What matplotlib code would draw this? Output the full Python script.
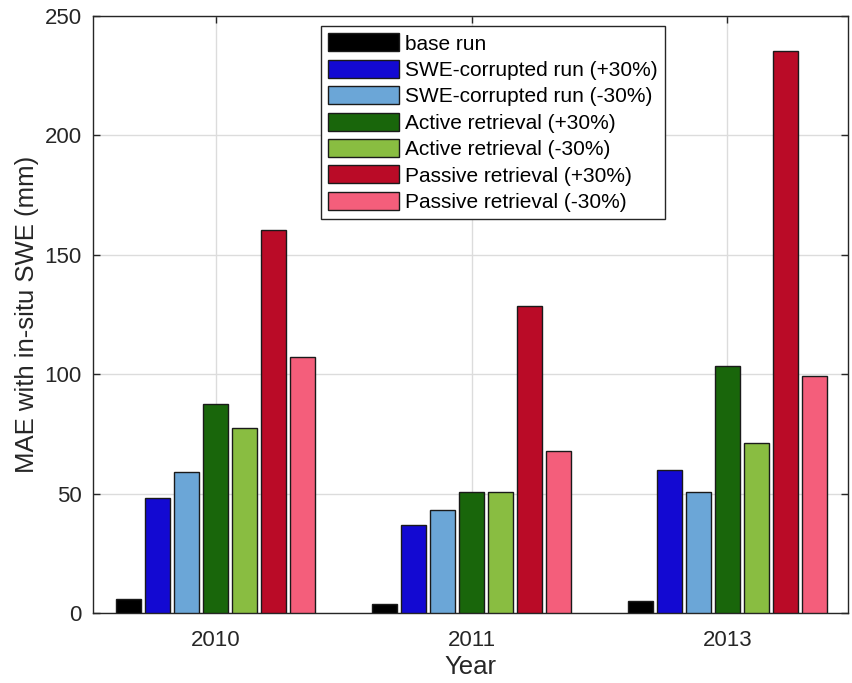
import numpy as np
import matplotlib
matplotlib.use('Agg')
import matplotlib.pyplot as plt

plt.rcParams['font.family'] = ['Liberation Sans', 'DejaVu Sans']

years = ['2010', '2011', '2013']
series_names = ['base run',
                'SWE-corrupted run (+30%)',
                'SWE-corrupted run (-30%)',
                'Active retrieval (+30%)',
                'Active retrieval (-30%)',
                'Passive retrieval (+30%)',
                'Passive retrieval (-30%)']
base_run = [5.9, 3.7, 4.9]
swe_plus = [48.1, 36.9, 59.9]
swe_minus = [59.0, 43.2, 50.7]
active_plus = [87.5, 50.7, 103.5]
active_minus = [77.5, 50.5, 71.2]
passive_plus = [160.3, 128.6, 235.5]
passive_minus = [107.2, 68.0, 99.4]
colors = ['#000000', '#1309D2', '#6BA6D7', '#19660B', '#89BD41', '#BA0B27', '#F45E7B']

values = [base_run, swe_plus, swe_minus, active_plus, active_minus,
          passive_plus, passive_minus]

fig = plt.figure(figsize=(8.52, 6.83), dpi=100)
ax = fig.add_axes([0.109, 0.1025, 0.886, 0.874])

x = np.arange(1, len(years) + 1)
step = 0.1133
width = 0.098
for i, (vals, name, col) in enumerate(zip(values, series_names, colors)):
    ax.bar(x + (i - 3) * step, vals, width, color=col, edgecolor='#1a1a1a',
           linewidth=1.0, label=name, zorder=3)

ax.set_xlim(0.52, 3.47)
ax.set_ylim(0, 250)
ax.set_xticks(x)
ax.set_xticklabels(years)
ax.set_yticks(np.arange(0, 251, 50))
ax.grid(True, color='#dcdcdc', linewidth=1.0, zorder=0)
ax.set_axisbelow(True)
ax.tick_params(direction='in', length=5, width=1, labelsize=16, colors='#262626',
               top=True, right=True, pad=8)
ax.tick_params(axis='x', pad=12)
for sp in ax.spines.values():
    sp.set_color('#262626')
    sp.set_linewidth(1.0)
ax.set_xlabel('Year', fontsize=18.5, color='#262626', labelpad=3)
ax.set_ylabel('MAE with in-situ SWE (mm)', fontsize=18.5, color='#262626', labelpad=4)

leg = ax.legend(loc='upper left', bbox_to_anchor=(0.302, 0.983), borderaxespad=0,
                fontsize=15, handlelength=3.4, handleheight=0.95, labelspacing=0.3,
                handletextpad=0.3, borderpad=0.35, fancybox=False, framealpha=1)
leg.get_frame().set_edgecolor('#262626')
leg.get_frame().set_linewidth(1.0)

fig.savefig('out.png', dpi=100)
